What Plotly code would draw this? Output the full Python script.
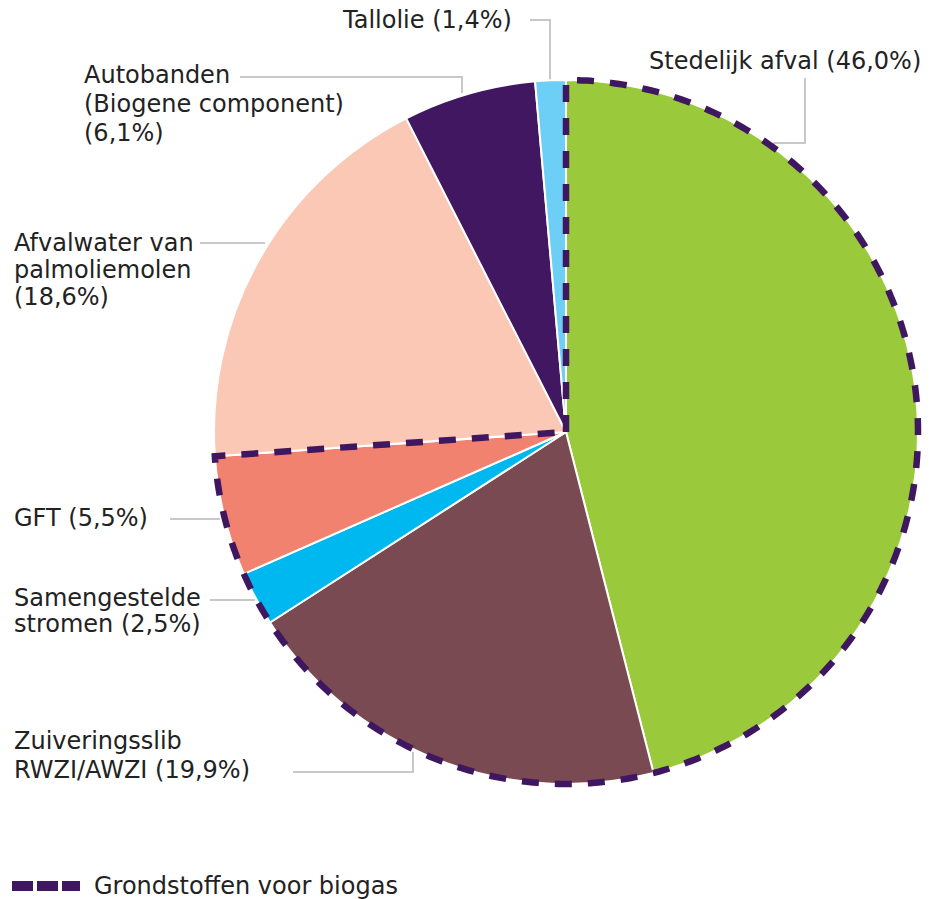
import numpy as np
import plotly.graph_objects as go

# ---------------- data ----------------
categories = [
    "Stedelijk afval",
    "Zuiveringsslib RWZI/AWZI",
    "Samengestelde stromen",
    "GFT",
    "Afvalwater van palmoliemolen",
    "Autobanden (Biogene component)",
    "Tallolie",
]
shares = [46.0, 19.9, 2.5, 5.5, 18.6, 6.1, 1.4]
biogas = [True, True, True, True, False, False, False]
label_lines = [
    ["Stedelijk afval ({v})"],
    ["Zuiveringsslib", "RWZI/AWZI ({v})"],
    ["Samengestelde", "stromen ({v})"],
    ["GFT ({v})"],
    ["Afvalwater van", "palmoliemolen", "({v})"],
    ["Autobanden", "(Biogene component)", "({v})"],
    ["Tallolie ({v})"],
]
legend_label = "Grondstoffen voor biogas"

# ---------------- style / layout ----------------
colors = ["#9AC93B", "#7A4A52", "#00B8F0", "#F28270", "#FAC8B4", "#411761", "#6DCFF6"]
dash_color = "#3F1760"
leader_color = "#C8C8C8"
text_color = "#222222"
FONT = "DejaVu Sans"
FS = 24

W, H = 932, 899
CX, CY, R = 566, 432, 352  # pie centre and radius in pixels

# label placement in pixels: (left x, first-line centre y, line spacing, leader polyline)
label_layout = [
    dict(x=647, y=61, dy=28, lead=[(805, 78), (805, 143), (773, 143)]),
    dict(x=12, y=741, dy=29, lead=[(293, 772), (413, 772), (413, 752)]),
    dict(x=12, y=598, dy=26, lead=[(210, 600), (255, 600)]),
    dict(x=12, y=518, dy=27, lead=[(170, 519), (220, 519)]),
    dict(x=12, y=243, dy=27, lead=[(200, 243), (265, 243)]),
    dict(x=82, y=75, dy=29, lead=[(240, 77), (462, 77), (462, 93)]),
    dict(x=340, y=20, dy=28, lead=[(530, 20), (550, 20), (550, 80)]),
]


def px(x):
    return x / W


def py(y):
    return 1 - y / H


def fmt(v):
    return f"{v:.1f}%".replace(".", ",")


fig = go.Figure(
    go.Pie(
        labels=categories,
        values=shares,
        sort=False,
        direction="clockwise",
        rotation=0,
        marker=dict(colors=colors, line=dict(color="white", width=2)),
        textinfo="none",
        hoverinfo="label+percent",
        showlegend=False,
        domain=dict(x=[px(CX - R), px(CX + R)], y=[py(CY + R), py(CY - R)]),
    )
)

shapes = []
annotations = []

# dashed outline around the biogas feedstock slices (computed from the data)
total = sum(shares)
frac = sum(v for v, b in zip(shares, biogas) if b) / total
theta = np.linspace(0, 2 * np.pi * frac, 400)
pts = [(CX, CY)] + [(CX + R * np.sin(t), CY - R * np.cos(t)) for t in theta] + [(CX, CY)]
path = "M " + " L ".join(f"{px(x):.5f},{py(y):.5f}" for x, y in pts)
shapes.append(
    dict(
        type="path",
        xref="paper",
        yref="paper",
        path=path,
        line=dict(color=dash_color, width=6.5, dash="17px,16px"),
        fillcolor="rgba(0,0,0,0)",
        layer="above",
    )
)

# labels + leader lines
for cat, v, lines, lay in zip(categories, shares, label_lines, label_layout):
    for i, ln in enumerate(lines):
        annotations.append(
            dict(
                x=px(lay["x"]),
                y=py(lay["y"] + i * lay["dy"]),
                xref="paper",
                yref="paper",
                text=ln.format(v=fmt(v)),
                showarrow=False,
                xanchor="left",
                yanchor="middle",
                font=dict(family=FONT, size=FS, color=text_color),
            )
        )
    lp = lay["lead"]
    lpath = "M " + " L ".join(f"{px(x):.5f},{py(y):.5f}" for x, y in lp)
    shapes.append(
        dict(
            type="path",
            xref="paper",
            yref="paper",
            path=lpath,
            line=dict(color=leader_color, width=2),
            layer="below",
        )
    )

# legend (dashed sample + text)
shapes.append(
    dict(
        type="line",
        xref="paper",
        yref="paper",
        x0=px(12),
        x1=px(80),
        y0=py(886),
        y1=py(886),
        line=dict(color=dash_color, width=10, dash="21px,4px"),
    )
)
annotations.append(
    dict(
        x=px(92),
        y=py(886),
        xref="paper",
        yref="paper",
        text=legend_label,
        showarrow=False,
        xanchor="left",
        yanchor="middle",
        font=dict(family=FONT, size=FS, color=text_color),
    )
)

fig.update_layout(
    width=W,
    height=H,
    margin=dict(l=0, r=0, t=0, b=0, pad=0),
    paper_bgcolor="white",
    plot_bgcolor="white",
    shapes=shapes,
    annotations=annotations,
    showlegend=False,
)

fig.write_html(
    "out.html",
    config={"displayModeBar": False},
    post_script="document.body.style.margin='0';document.body.style.overflow='hidden';",
)
